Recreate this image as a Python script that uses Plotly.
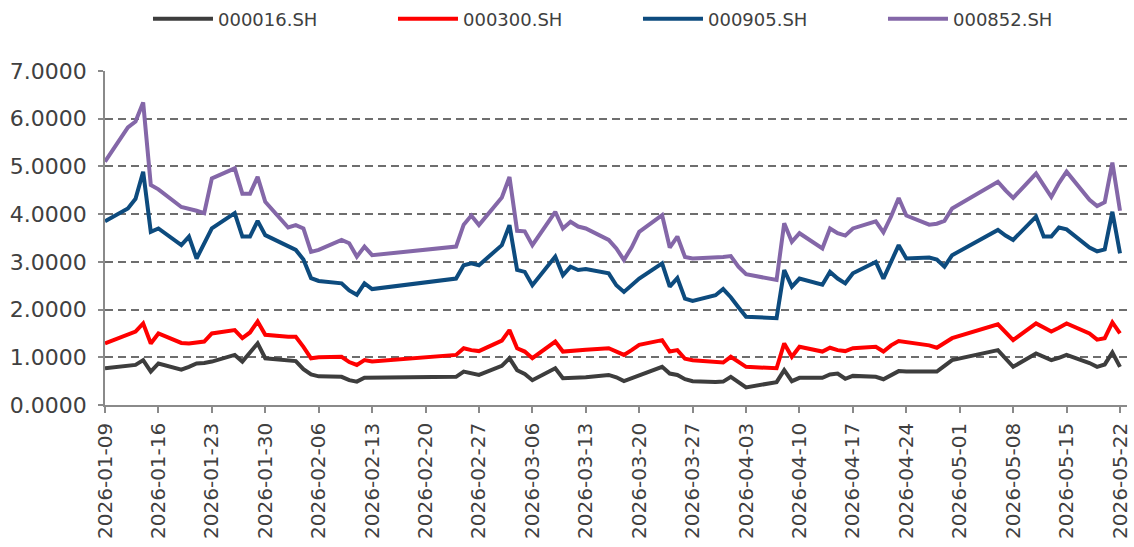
import plotly.graph_objects as go

dates = [
    "2026-01-09", "2026-01-12", "2026-01-13", "2026-01-14", "2026-01-15", "2026-01-16",
    "2026-01-19", "2026-01-20", "2026-01-21", "2026-01-22", "2026-01-23",
    "2026-01-26", "2026-01-27", "2026-01-28", "2026-01-29", "2026-01-30",
    "2026-02-02", "2026-02-03", "2026-02-04", "2026-02-05", "2026-02-06",
    "2026-02-09", "2026-02-10", "2026-02-11", "2026-02-12", "2026-02-13",
    "2026-02-24", "2026-02-25", "2026-02-26", "2026-02-27",
    "2026-03-02", "2026-03-03", "2026-03-04", "2026-03-05", "2026-03-06",
    "2026-03-09", "2026-03-10", "2026-03-11", "2026-03-12", "2026-03-13",
    "2026-03-16", "2026-03-17", "2026-03-18", "2026-03-19", "2026-03-20",
    "2026-03-23", "2026-03-24", "2026-03-25", "2026-03-26", "2026-03-27",
    "2026-03-30", "2026-03-31", "2026-04-01", "2026-04-02", "2026-04-03",
    "2026-04-07", "2026-04-08", "2026-04-09", "2026-04-10",
    "2026-04-13", "2026-04-14", "2026-04-15", "2026-04-16", "2026-04-17",
    "2026-04-20", "2026-04-21", "2026-04-22", "2026-04-23", "2026-04-24",
    "2026-04-27", "2026-04-28", "2026-04-29", "2026-04-30",
    "2026-05-06", "2026-05-07", "2026-05-08",
    "2026-05-11", "2026-05-12", "2026-05-13", "2026-05-14", "2026-05-15",
    "2026-05-18", "2026-05-19", "2026-05-20", "2026-05-21", "2026-05-22",
]

s000016 = [
    0.77, 0.82, 0.84, 0.94, 0.70, 0.87,
    0.74, 0.80, 0.87, 0.88, 0.91,
    1.05, 0.91, 1.10, 1.29, 0.98,
    0.94, 0.92, 0.75, 0.64, 0.60,
    0.59, 0.52, 0.49, 0.57, 0.57,
    0.59, 0.70, 0.66, 0.63,
    0.82, 0.98, 0.73, 0.65, 0.52,
    0.77, 0.56, 0.57, 0.56, 0.58,
    0.63, 0.58, 0.50, 0.56, 0.63,
    0.80, 0.66, 0.63, 0.54, 0.50,
    0.48, 0.49, 0.59, 0.48, 0.37,
    0.48, 0.73, 0.50, 0.57,
    0.57, 0.64, 0.66, 0.55, 0.61,
    0.59, 0.54, 0.62, 0.71, 0.70,
    0.70, 0.70, 0.82, 0.94,
    1.15, 0.97, 0.80,
    1.08, 1.00, 0.94, 0.99, 1.05,
    0.88, 0.80, 0.85, 1.10, 0.80,
]

s000300 = [
    1.29, 1.48, 1.54, 1.71, 1.29, 1.50,
    1.30, 1.29, 1.31, 1.33, 1.50,
    1.57, 1.40, 1.52, 1.75, 1.47,
    1.43, 1.43, 1.22, 0.98, 1.00,
    1.01, 0.90, 0.84, 0.94, 0.91,
    1.05, 1.19, 1.15, 1.13,
    1.35, 1.57, 1.19, 1.12, 0.98,
    1.33, 1.12, 1.14, 1.15, 1.16,
    1.19, 1.12, 1.05, 1.15, 1.26,
    1.36, 1.12, 1.15, 0.97, 0.94,
    0.91, 0.89, 1.01, 0.90, 0.80,
    0.77, 1.29, 1.01, 1.22,
    1.12, 1.20, 1.15, 1.13, 1.19,
    1.22, 1.12, 1.25, 1.34, 1.32,
    1.25, 1.20, 1.30, 1.40,
    1.69, 1.52, 1.36,
    1.71, 1.62, 1.54, 1.62, 1.71,
    1.50, 1.37, 1.40, 1.73, 1.50,
]

s000905 = [
    3.85, 4.12, 4.32, 4.89, 3.63, 3.70,
    3.35, 3.53, 3.07, 3.40, 3.70,
    4.02, 3.53, 3.53, 3.86, 3.56,
    3.32, 3.25, 3.05, 2.66, 2.60,
    2.55, 2.40, 2.31, 2.55, 2.43,
    2.65, 2.93, 2.97, 2.93,
    3.35, 3.77, 2.83, 2.79, 2.51,
    3.11, 2.72, 2.90, 2.83, 2.85,
    2.76, 2.51, 2.37, 2.50, 2.65,
    2.97, 2.48, 2.66, 2.23, 2.18,
    2.30, 2.43, 2.26, 2.05, 1.85,
    1.82, 2.83, 2.48, 2.65,
    2.52, 2.79, 2.65, 2.55, 2.76,
    3.00, 2.65, 3.00, 3.35, 3.07,
    3.09, 3.05, 2.90, 3.14,
    3.67, 3.55, 3.46,
    3.95, 3.53, 3.53, 3.72, 3.68,
    3.30, 3.22, 3.26, 4.05, 3.18,
]

s000852 = [
    5.10, 5.82, 5.94, 6.34, 4.61, 4.52,
    4.15, 4.12, 4.07, 4.02, 4.75,
    4.96, 4.43, 4.43, 4.78, 4.26,
    3.72, 3.77, 3.70, 3.21, 3.25,
    3.46, 3.39, 3.11, 3.32, 3.14,
    3.32, 3.78, 3.97, 3.77,
    4.35, 4.78, 3.65, 3.64, 3.35,
    4.05, 3.70, 3.84, 3.74, 3.70,
    3.46, 3.28, 3.04, 3.30, 3.63,
    3.98, 3.30, 3.53, 3.10, 3.07,
    3.08, 3.10, 3.12, 2.90, 2.74,
    2.62, 3.81, 3.42, 3.60,
    3.28, 3.70, 3.60, 3.55, 3.70,
    3.85, 3.62, 3.95, 4.34, 3.97,
    3.78, 3.80, 3.86, 4.12,
    4.68, 4.50, 4.34,
    4.85, 4.60, 4.36, 4.65, 4.89,
    4.30, 4.17, 4.25, 5.08, 4.07,
]

series_names = ["000016.SH", "000300.SH", "000905.SH", "000852.SH"]
series_values = [s000016, s000300, s000905, s000852]
series_colors = ["#3d3d3d", "#ff0000", "#0d4b7e", "#8467a8"]

y_ticks = [0, 1, 2, 3, 4, 5, 6, 7]
y_tick_labels = ["%.4f" % v for v in y_ticks]

fig = go.Figure()
for name, vals, col in zip(series_names, series_values, series_colors):
    fig.add_trace(go.Scatter(
        x=dates, y=vals, name=name, mode="lines",
        line=dict(color=col, width=4, shape="linear"),
        hoverinfo="skip",
    ))

font_main = "DejaVu Sans, Verdana, sans-serif"

fig.update_layout(
    width=1134, height=547,
    margin=dict(l=105, r=7, t=71, b=142, pad=0),
    paper_bgcolor="white", plot_bgcolor="white",
    font=dict(family=font_main, size=20, color="#404040"),
    showlegend=True,
    legend=dict(
        orientation="h", xref="container", yref="container",
        x=0.1305, xanchor="left", y=0.999, yanchor="top",
        font=dict(family=font_main, size=18, color="#404040"),
        itemwidth=60, entrywidth=170, entrywidthmode="pixels",
        bgcolor="rgba(0,0,0,0)", tracegroupgap=0,
    ),
    xaxis=dict(
        type="date", automargin=False,
        range=["2026-01-09", "2026-05-22 22:00"],
        tick0="2026-01-09", dtick=7 * 86400000,
        tickformat="%Y-%m-%d", tickangle=-90,
        ticks="outside", ticklen=6, tickwidth=1.5, tickcolor="#8a8a8a",
        ticklabelstandoff=2,
        showline=True, linecolor="#8a8a8a", linewidth=1.5,
        showgrid=False, zeroline=False,
        tickfont=dict(family=font_main, size=20, color="#404040"),
    ),
    yaxis=dict(
        automargin=False,
        range=[0, 7], tickvals=y_ticks, ticktext=y_tick_labels,
        ticks="outside", ticklen=5, tickwidth=1.5, tickcolor="#8a8a8a",
        ticklabelstandoff=7,
        showline=True, linecolor="#8a8a8a", linewidth=1.5,
        showgrid=True, gridcolor="#6e6e6e", gridwidth=1.5, griddash="8px,5px",
        zeroline=False,
        tickfont=dict(family=font_main, size=22, color="#404040"),
    ),
)

fig.write_html(
    "out.html",
    config={"displayModeBar": False},
    post_script="document.body.style.margin='0';document.body.style.padding='0';",
)
